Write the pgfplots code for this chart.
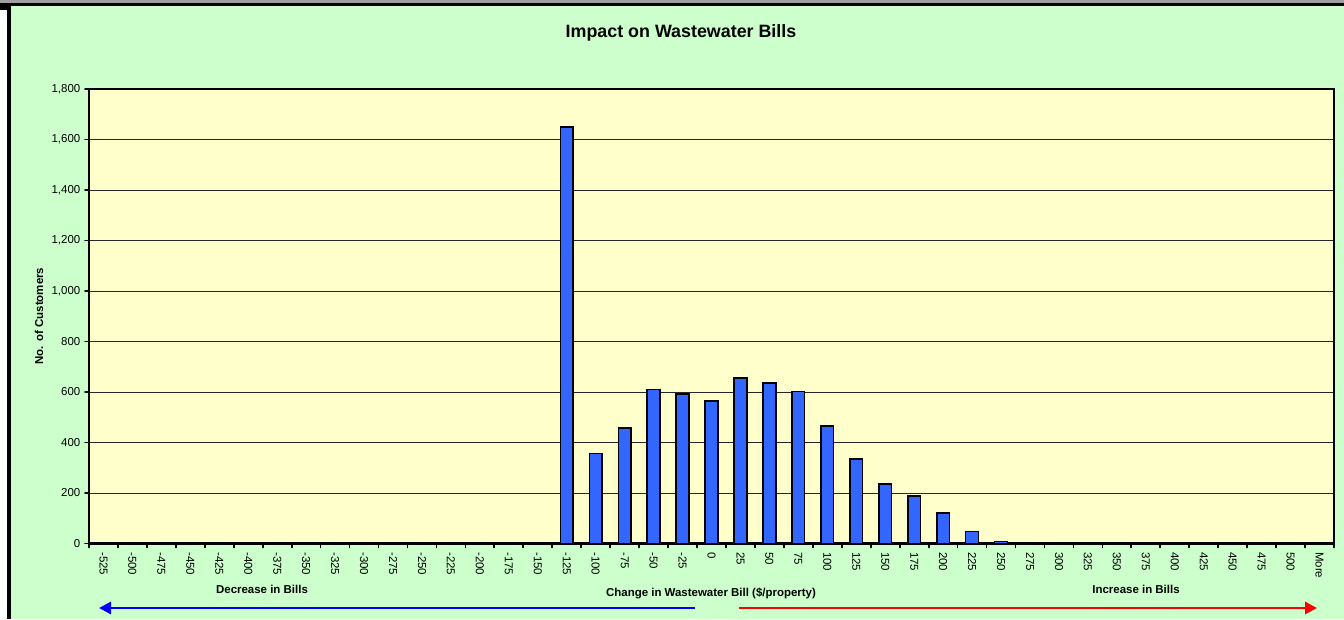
\documentclass[border=0pt]{standalone}
\usepackage{fontspec}
\setmainfont{Liberation Sans}
\usepackage{pgfplots}
\usepackage{pgfplotstable}
\pgfplotsset{compat=1.18}
\usetikzlibrary{arrows.meta}
\definecolor{chartbg}{HTML}{CCFFCC}
\definecolor{plotbg}{HTML}{FFFFCC}
\definecolor{barblue}{HTML}{3366FF}
\definecolor{shadowgray}{HTML}{A0A0A0}

% bin index 0 = -525, step 25, index 42 = More
\pgfplotstableread{
bin count
0 0
1 0
2 0
3 0
4 0
5 0
6 0
7 0
8 0
9 0
10 0
11 0
12 0
13 0
14 0
15 0
16 1650
17 357
18 457
19 610
20 593
21 564
22 656
23 636
24 602
25 465
26 334
27 235
28 189
29 121
30 48
31 8
32 2
33 1
34 1
35 0
36 0
37 0
38 0
39 0
40 0
41 0
42 0
}\billdata

\newcommand{\lblfont}{\fontsize{8.6}{10}\selectfont}

\begin{document}
\begin{tikzpicture}
% chart area (pixel coordinates, y downwards)
\begin{scope}[x=0.75pt,y=-0.75pt,yshift=464.25pt]
  \fill[shadowgray] (0,0) rectangle (1344,3);
  \fill[black] (0,3) rectangle (1344,6);
  \fill[black] (0,6) rectangle (7,10);
  \fill[black] (7,6) rectangle (11,619);
  \fill[chartbg] (11,6) rectangle (1344,619);
  \coordinate (plotsw) at (89,543.5);
\end{scope}

\begin{axis}[
  at={(plotsw)}, anchor=south west,
  scale only axis,
  width=933.75pt, height=340.875pt,
  axis background/.style={fill=plotbg},
  axis line style={line width=2pt},
  ybar, bar width=0.44,
  xmin=-0.5, xmax=42.5,
  ymin=0, ymax=1800,
  ytick={0,200,...,1800},
  xtick={0,...,42},
  xticklabels={-525,-500,-475,-450,-425,-400,-375,-350,-325,-300,-275,-250,-225,-200,-175,-150,-125,-100,-75,-50,-25,0,25,50,75,100,125,150,175,200,225,250,275,300,325,350,375,400,425,450,475,500,More},
  minor xtick={-0.5,0.5,...,42.5},
  major x tick style={draw=none},
  tick pos=left,
  tick align=outside,
  major tick length=3pt, minor tick length=3pt,
  every tick/.style={black, line width=1.3pt, line cap=round},
  ymajorgrids,
  grid style={black!85, line width=0.6pt},
  /pgf/number format/assume math mode=true,
  /pgf/number format/1000 sep={,},
  yticklabel style={font=\lblfont},
  xticklabel style={font=\lblfont, rotate=-90, anchor=west},
]
  \addplot[fill=barblue, draw=black, line width=1.1pt] table[x=bin, y=count] {\billdata};
\end{axis}

\begin{scope}[x=0.75pt,y=-0.75pt,yshift=464.25pt]
  \node[font=\bfseries\fontsize{13.4}{16}\selectfont, anchor=base] at (681,38) {Impact on Wastewater Bills};
  \node[font=\bfseries\lblfont, anchor=base, rotate=90] at (43,316) {No. of Customers};
  \node[font=\bfseries\lblfont, anchor=base] at (262,593) {Decrease in Bills};
  \node[font=\bfseries\lblfont, anchor=base] at (711,596) {Change in Wastewater Bill (\$/property)};
  \node[font=\bfseries\lblfont, anchor=base] at (1136,593) {Increase in Bills};
  \draw[blue, line width=2.2pt, -{Triangle[length=9pt,width=9pt]}] (695,608) -- (99,608);
  \draw[red, line width=2.2pt, -{Triangle[length=9pt,width=9pt]}] (739,608) -- (1317,608);
  \pgfresetboundingbox
  \path[use as bounding box] (0,0) rectangle (1344,619);
\end{scope}
\end{tikzpicture}
\end{document}
